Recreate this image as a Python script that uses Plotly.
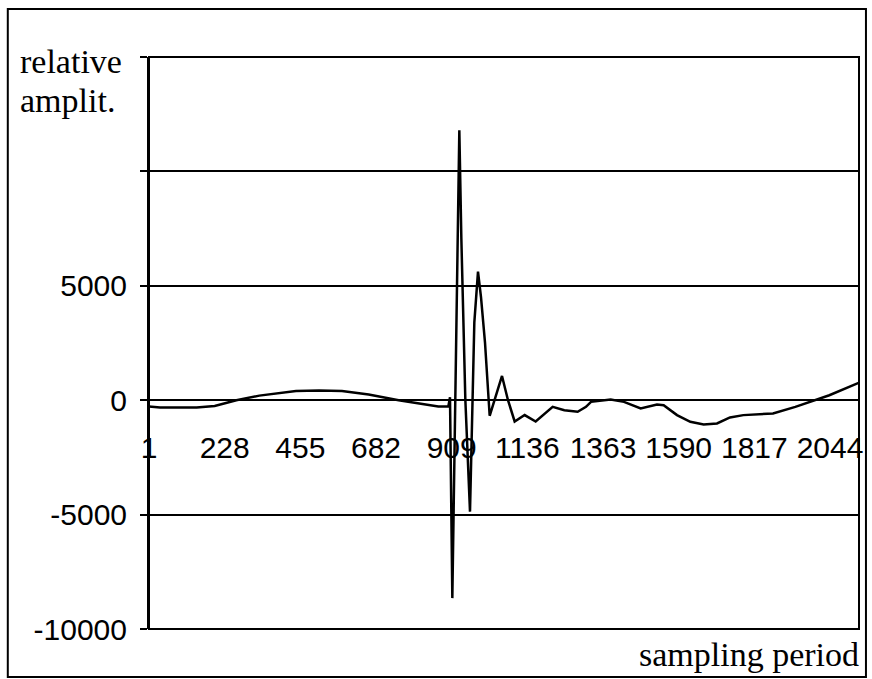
import plotly.graph_objects as go

# sample index (sampling period) and relative amplitude
samples = [1, 34, 144, 198, 263, 332, 442, 511, 580, 660, 750, 809, 869, 899,
           904, 911, 932, 938, 947, 950, 964, 973, 977, 988, 997, 1009, 1012,
           1023, 1060, 1078, 1098, 1128, 1161, 1212, 1247, 1287, 1312, 1327,
           1386, 1426, 1476, 1525, 1545, 1585, 1625, 1665, 1705, 1744, 1784,
           1873, 1940, 2003, 2042, 2130]
amplitude = [-270, -320, -320, -250, 0, 200, 400, 420, 400, 250, 0, -150, -270, -270,
             130, -8650, 11800, 7100, 1800, 40, -4870, 780, 3400, 5620, 4500, 2520, 1780,
             -680, 1060, 0, -930, -650, -930, -290, -435, -507, -290, -72,
             29, -72, -362, -188, -217, -652, -942, -1058, -1014, -754, -652,
             -580, -290, 29, 217, 760]

x_tick_vals = [1, 228, 455, 682, 909, 1136, 1363, 1590, 1817, 2044]
x_tick_text = ["1", "228", "455", "682", "909", "1136", "1363", "1590", "1817", "2044"]
y_tick_vals = [-10000, -5000, 0, 5000, 10000, 15000]
y_tick_text = ["-10000", "-5000", "0", "5000", "", ""]

W, H = 872, 679
L, R, T, B = 149, 9, 57, 50
pw, ph = W - L - R, H - T - B

def px_x(p):
    return (p - L) / pw

def px_y(p):
    return (H - B - p) / ph

fig = go.Figure()
fig.add_trace(go.Scatter(x=samples, y=amplitude, mode="lines",
                         line=dict(color="black", width=2.5), showlegend=False,
                         hoverinfo="skip"))

sans = "Liberation Sans, Arial, sans-serif"
serif = "Liberation Serif, Times New Roman, serif"

fig.update_layout(
    width=W, height=H,
    margin=dict(l=L, r=R, t=T, b=B, pad=0),
    paper_bgcolor="white", plot_bgcolor="white",
    xaxis=dict(range=[1, 2131], tickvals=x_tick_vals, ticktext=x_tick_text,
               showgrid=False, zeroline=False, showline=False, ticks="",
               anchor="free", position=0.4, ticklabelstandoff=27,
               tickfont=dict(family=sans, size=30, color="black")),
    yaxis=dict(range=[-10000, 15000], tickvals=y_tick_vals, ticktext=y_tick_text,
               showgrid=True, gridcolor="black", gridwidth=1.6,
               zeroline=True, zerolinecolor="black", zerolinewidth=1.6,
               showline=True, linecolor="black", linewidth=2,
               ticks="outside", ticklen=7, tickcolor="black", tickwidth=1.5,
               ticklabelstandoff=7,
               tickfont=dict(family=sans, size=30, color="black")),
    shapes=[
        dict(type="rect", xref="paper", yref="paper", x0=0, x1=1, y0=0, y1=1,
             line=dict(color="black", width=2)),
        dict(type="rect", xref="paper", yref="paper",
             x0=px_x(7), x1=px_x(870), y0=px_y(677), y1=px_y(9),
             line=dict(color="black", width=2)),
    ],
    annotations=[
        dict(text="relative", xref="paper", yref="paper", x=px_x(17), y=px_y(41),
             xanchor="left", yanchor="top", showarrow=False,
             font=dict(family=serif, size=34, color="black")),
        dict(text="amplit.", xref="paper", yref="paper", x=px_x(17), y=px_y(80),
             xanchor="left", yanchor="top", showarrow=False,
             font=dict(family=serif, size=34, color="black")),
        dict(text="sampling period", xref="paper", yref="paper", x=px_x(865), y=px_y(675),
             xanchor="right", yanchor="bottom", showarrow=False,
             font=dict(family=serif, size=34, color="black")),
    ],
)

fig.write_html(
    "out.html",
    config={"displayModeBar": False, "responsive": False},
    post_script=(
        "document.body.style.margin='0';"
        "document.body.style.overflow='hidden';"
        "document.documentElement.style.overflow='hidden';"
    ),
)
